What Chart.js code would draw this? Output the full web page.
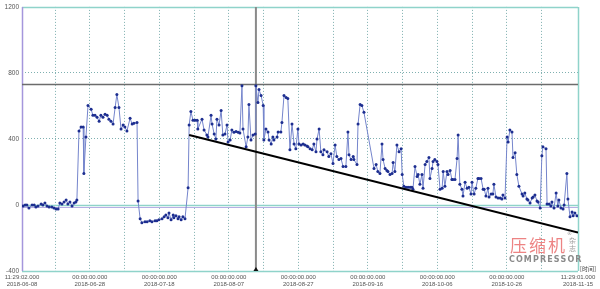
<!DOCTYPE html>
<html>
<head>
<meta charset="utf-8">
<script src="https://cdn.jsdelivr.net/npm/chart.js@4.4.1/dist/chart.umd.min.js"></script>
<style>
  html, body { margin: 0; padding: 0; background: #fff; }
  canvas { display: block; }
</style>
</head>
<body>
<canvas id="trendChart" width="600" height="289"></canvas>
<script>
// time axis: days since the first sample
const startTime = '2018-06-08T11:29:02Z';
const endTime = '2018-11-15T11:29:01Z';

const gridTimes = [
  '2018-06-08T11:29:02Z', '2018-06-18T00:00:00Z', '2018-06-28T00:00:00Z', '2018-07-08T00:00:00Z',
  '2018-07-18T00:00:00Z', '2018-07-28T00:00:00Z', '2018-08-07T00:00:00Z', '2018-08-17T00:00:00Z',
  '2018-08-27T00:00:00Z', '2018-09-06T00:00:00Z', '2018-09-16T00:00:00Z', '2018-09-26T00:00:00Z',
  '2018-10-06T00:00:00Z', '2018-10-16T00:00:00Z', '2018-10-26T00:00:00Z', '2018-11-05T00:00:00Z',
  '2018-11-15T11:29:01Z'
];
const labelTimes = [
  '2018-06-08T11:29:02Z', '2018-06-28T00:00:00Z', '2018-07-18T00:00:00Z', '2018-08-07T00:00:00Z',
  '2018-08-27T00:00:00Z', '2018-09-16T00:00:00Z', '2018-10-06T00:00:00Z', '2018-10-26T00:00:00Z',
  '2018-11-15T11:29:01Z'
];
const yTicks = [-400, 0, 400, 800, 1200];

// sampled series (day offset, value)
const sampleDays = [
  0.3, 0.9, 1.4, 2.0, 2.9, 3.5, 4.0, 4.6, 5.5, 6.0, 6.6, 7.2, 7.8, 8.6, 9.2, 9.8, 10.4, 10.9, 11.5, 12.1,
  12.7, 13.2, 13.8, 14.4, 15.0, 15.5, 15.8,
  16.4, 17.0, 17.6, 17.8, 18.4, 19.0, 19.9, 20.4, 21.0, 21.6, 22.2, 22.7, 23.3, 23.9, 24.5, 25.0, 25.6, 26.2,
  26.8, 27.3, 27.9, 28.5, 29.1, 29.6, 30.2, 31.1, 31.7, 32.2, 33.1, 33.4,
  34.0, 34.5, 35.4, 36.0, 36.8, 37.4, 38.3, 38.8, 39.4, 40.3, 40.9, 41.4, 42.0, 42.3, 42.9, 43.5, 43.7, 44.3,
  44.9, 45.2, 45.8, 46.3, 46.9, 47.8,
  48.1, 48.6, 49.2, 49.8, 50.4, 50.6, 51.8, 52.4, 53.2, 53.5, 54.4, 54.7, 55.3, 55.8, 56.1, 56.7, 57.3, 57.8,
  58.4, 59.0, 59.3, 59.9, 60.4, 61.0, 61.6, 62.2, 62.7, 63.3, 63.6, 64.5, 65.0, 65.3, 65.9, 66.5, 67.1, 67.3,
  67.9, 68.2, 68.8, 69.4, 69.6, 70.2, 70.8, 71.1, 71.7, 72.2, 72.5, 73.4, 73.7, 74.5, 74.8, 75.4, 76.0, 76.5,
  77.1, 77.7, 78.3, 78.8, 79.4, 79.7, 80.3, 80.9, 81.4, 82.0, 82.3, 82.9, 83.5, 84.0, 84.6, 84.9, 85.5, 86.0,
  86.6, 86.9, 87.8, 88.3, 88.9, 89.5, 90.1, 90.6, 91.2, 91.8, 92.4, 93.2, 93.8, 94.1, 94.7, 95.3, 95.5, 96.4,
  96.7, 97.3, 97.8, 98.4, 101.3,
  101.9, 102.4, 103.0, 103.6, 103.9, 104.5, 105.0, 105.3, 105.9, 106.5, 106.8, 107.3, 107.9, 108.5, 109.1,
  109.4, 109.9, 110.5, 111.1, 111.7, 112.2, 112.5, 113.1, 113.7, 114.0, 114.5, 115.1, 115.4, 116.0, 116.5,
  117.1, 117.4, 118.0, 118.3, 118.8, 119.4, 119.7, 120.3, 120.9, 121.2, 121.7, 122.3, 122.6, 123.2, 123.7,
  124.0, 124.6, 125.2, 125.5, 126.0, 126.6, 126.9, 127.5, 128.1, 128.6, 129.2, 129.5, 130.1, 130.6, 131.2,
  131.5, 132.1, 132.7, 133.0, 133.5, 134.1, 134.4, 135.0, 135.5, 135.8, 136.4, 137.0, 137.6, 138.1, 138.4,
  139.0, 139.6, 139.9, 140.4, 141.0, 141.3, 141.9, 142.4, 143.0, 143.9, 144.2, 144.7, 145.3, 145.6, 146.2,
  146.8, 147.1, 147.6, 148.2, 148.5, 149.1, 149.6, 149.9, 150.8, 151.1, 151.7, 152.2, 152.5, 153.1, 153.7,
  154.2, 154.5, 155.1, 155.7, 156.0, 156.8, 157.1, 157.7, 158.3, 158.6, 159.1, 159.7
];
const sampleValues = [
  -6, 0, 0, -18, 0, 0, -12, -6, 6, 0, 12, -6, -12, -12, -18, -24, -24, 12, 6, 18,
  30, 6, 18, -6, 12, 18, 30,
  448, 472, 472, 191, 412, 603, 580, 543, 543, 531, 507, 543, 531, 549, 543, 519, 507, 490,
  591, 669, 591, 460, 484, 472, 448, 525, 490, 495, 500, 24,
  -84, -107, -101, -101, -95, -101, -95, -95, -90, -84, -72, -60, -78, -48, -90, -60, -78, -66,
  -84, -72, -90, -72, -84, 104,
  484, 567, 513, 513, 513, 460, 520, 454, 424, 412, 543, 490, 430, 400, 520, 484, 573, 424,
  430, 484, 382, 394, 454, 440, 445, 440, 436, 722, 460, 352, 412, 609, 394, 424, 430, 722,
  621, 699, 663, 603, 394, 460, 442, 394, 370, 412, 394, 412, 442, 442, 500, 663, 651, 645,
  334, 490, 370, 340, 460, 370, 364, 370, 364, 358, 352, 340, 334, 370, 322, 400, 460, 322,
  304, 334, 322, 293, 310, 251, 364, 293, 275, 281, 233, 233, 442, 304, 275, 293, 275, 245,
  490, 609, 603, 561, 221,
  245, 203, 191, 370, 275, 221, 209, 203, 185, 191, 257, 203, 364, 322, 340,
  185, 113, 107, 107, 107, 107, 96, 233, 173, 185, 125, 185, 101, 245, 263,
  287, 161, 221, 263, 275, 263, 245, 96, 101, 203, 113, 203, 185, 209, 155,
  155, 155, 281, 424, 125, 96, 54, 137, 101, 107, 66, 137, 66, 101, 161,
  161, 161, 96, 96, 54, 101, 48, 66, 66, 125, 48, 42, 42, 36, 60,
  42, 412, 382, 454, 442, 287, 316, 185, 113, 66, 54, 72, 36, 30, 12,
  42, 48, 60, 24, 18, -18, 298, 352, 340, 6, 6, -6, 18, -18, 72,
  -6, 30, -18, -24, 0, 191, 36, -72, -42, -66, -48, -66
];

// reference marks
const limitValue = 730;
const cursorTime = '2018-08-14T19:00:00Z';
const trendStart = [48.1, 424];
const trendEnd = [160, -167];

const DAY_MS = 86400000;
const toDay = t => (Date.parse(t) - Date.parse(startTime)) / DAY_MS;
const xMax = toDay(endTime);

function tickText(t) {
  const d = new Date(Date.parse(t));
  const p = n => String(n).padStart(2, '0');
  return [
    p(d.getUTCHours()) + ':' + p(d.getUTCMinutes()) + ':' + p(d.getUTCSeconds()) + '.000',
    d.getUTCFullYear() + '-' + p(d.getUTCMonth() + 1) + '-' + p(d.getUTCDate())
  ];
}

const frame = {
  id: 'frame',
  beforeDatasetsDraw(chart) {
    const { ctx, chartArea: a, scales: { x, y } } = chart;
    const hl = (py, color, w) => {
      ctx.strokeStyle = color; ctx.lineWidth = w;
      ctx.beginPath(); ctx.moveTo(a.left, py); ctx.lineTo(a.right, py); ctx.stroke();
    };
    const vl = (px, color, w) => {
      ctx.strokeStyle = color; ctx.lineWidth = w;
      ctx.beginPath(); ctx.moveTo(px, a.top); ctx.lineTo(px, a.bottom); ctx.stroke();
    };
    ctx.save();
    const y0 = Math.round(y.getPixelForValue(0));
    hl(y0 + 0.5, '#8fd3ca', 1.5);
    hl(y0 + 2.5, '#b7aee4', 1);
    hl(Math.round(y.getPixelForValue(1200)) + 0.5, '#8fd3ca', 1.5);
    hl(Math.round(y.getPixelForValue(-400)) + 0.5, '#8fd3ca', 1.5);
    vl(Math.round(x.getPixelForValue(xMax)) + 0.5, '#8fd3ca', 1.5);
    vl(Math.round(x.getPixelForValue(0)) + 0.5, '#a596dc', 1.5);
    ctx.restore();
  },
  afterDraw(chart) {
    const { ctx, chartArea: a, scales: { x } } = chart;
    ctx.save();
    // cursor marker
    const cx = x.getPixelForValue(toDay(cursorTime));
    ctx.fillStyle = '#111';
    ctx.beginPath();
    ctx.moveTo(cx - 2.5, a.bottom); ctx.lineTo(cx + 2.5, a.bottom); ctx.lineTo(cx, a.bottom - 4);
    ctx.closePath(); ctx.fill();
    // watermark
    ctx.fillStyle = 'rgba(232, 100, 100, 0.8)';
    ctx.font = '17px "Noto Sans CJK SC"';
    ctx.textBaseline = 'alphabetic';
    ctx.fillText('压', 510, 252);
    ctx.fillText('缩', 529, 252);
    ctx.fillText('机', 548, 252);
    ctx.fillStyle = '#8a8a8a';
    ctx.font = 'bold 8px "DejaVu Sans"';
    const word = 'COMPRESSOR';
    let wx = 509;
    for (const ch of word) { ctx.fillText(ch, wx, 262); wx += ctx.measureText(ch).width + 1.1; }
    ctx.font = '7px "Noto Sans CJK SC"';
    ctx.fillStyle = '#9a9a9a';
    ctx.fillText('杂', 569, 243);
    ctx.fillText('志', 569, 251);
    ctx.font = '5px "DejaVu Sans"';
    ctx.fillText('®', 567, 235);
    ctx.fillStyle = '#444';
    ctx.font = '6px "Noto Sans CJK SC"';
    ctx.fillText('[时间]', 580, 271);
    ctx.restore();
  }
};

const gridColor = '#7fb0b0';

new Chart(document.getElementById('trendChart'), {
  type: 'line',
  data: {
    datasets: [
      {
        data: [{ x: trendStart[0], y: trendStart[1] }, { x: trendEnd[0], y: trendEnd[1] }],
        borderColor: '#000', borderWidth: 2, pointRadius: 0, order: 0
      },
      {
        data: sampleDays.map((d, i) => ({ x: d, y: sampleValues[i] })),
        borderColor: '#7585cc', borderWidth: 1, tension: 0,
        pointRadius: 1.5, pointBackgroundColor: '#1d2e90', pointBorderWidth: 0, order: 1
      },
      {
        data: [{ x: 0, y: limitValue }, { x: xMax, y: limitValue }],
        borderColor: '#6c6c6c', borderWidth: 1.5, pointRadius: 0, order: 2
      },
      {
        data: [{ x: toDay(cursorTime), y: -400 }, { x: toDay(cursorTime), y: 1200 }],
        borderColor: '#8a8a8a', borderWidth: 2, pointRadius: 0, order: 2
      }
    ]
  },
  options: {
    responsive: false,
    animation: false,
    events: [],
    layout: { padding: { top: 3, right: 22, left: 0, bottom: 0 } },
    plugins: { legend: { display: false }, tooltip: { enabled: false } },
    scales: {
      x: {
        type: 'linear', min: 0, max: xMax,
        afterBuildTicks: s => { s.ticks = gridTimes.map(t => ({ value: toDay(t) })); },
        afterFit: s => { s.height = 18; },
        border: { display: false, dash: [1, 2] },
        grid: {
          drawTicks: false,
          color: c => (c.index === 0 || c.index === gridTimes.length - 1) ? 'rgba(0,0,0,0)' : gridColor,
          lineWidth: 1
        },
        ticks: {
          autoSkip: false, maxRotation: 0, padding: 3,
          color: '#555', font: { family: 'Liberation Sans', size: 6, lineHeight: 1.15 },
          callback: (v, i) => labelTimes.includes(gridTimes[i]) ? tickText(gridTimes[i]) : ''
        }
      },
      y: {
        min: -400, max: 1200,
        afterBuildTicks: s => { s.ticks = yTicks.map(v => ({ value: v })); },
        afterFit: s => { s.width = 22; },
        border: { display: false, dash: [1, 2] },
        grid: {
          drawTicks: false,
          color: c => (c.tick.value === 400 || c.tick.value === 800) ? gridColor : 'rgba(0,0,0,0)',
          lineWidth: 1
        },
        ticks: {
          padding: 3, color: '#555',
          font: { family: 'Liberation Sans', size: 6.5 },
          callback: v => String(v)
        }
      }
    }
  },
  plugins: [frame]
});
</script>
</body>
</html>
